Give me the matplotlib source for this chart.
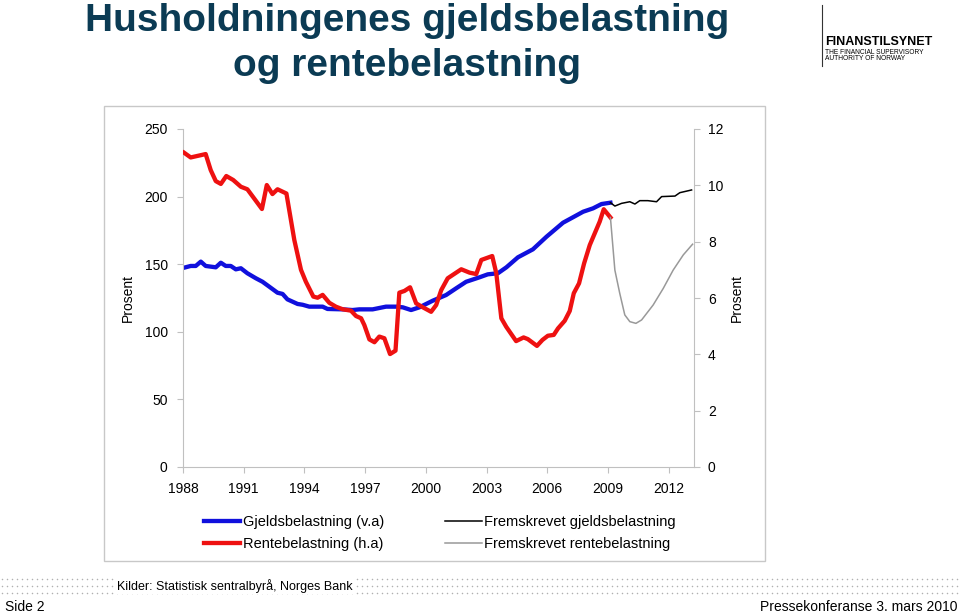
import numpy as np
import matplotlib.pyplot as plt
from matplotlib.lines import Line2D
from matplotlib.patches import Rectangle

plt.rcParams['font.family'] = ['Liberation Sans', 'DejaVu Sans']

# Gjeldsbelastning (v.a), prosent
gjeld_aar = [1988.05, 1988.38, 1988.63, 1988.88, 1989.12, 1989.62, 1989.87, 1990.11,
             1990.36, 1990.61, 1990.86, 1991.18, 1991.60, 1991.93, 1992.26, 1992.67,
             1992.92, 1993.16, 1993.66, 1993.91, 1994.24, 1994.90, 1995.14, 1995.89,
             1996.38, 1996.71, 1997.37, 1998.03, 1998.53, 1998.86, 1999.27, 1999.68,
             2000.34, 2001.00, 2001.50, 2001.99, 2002.65, 2003.06, 2003.56, 2003.98,
             2004.55, 2005.29, 2005.96, 2006.78, 2007.27, 2007.77, 2008.26, 2008.68,
             2009.12]
gjeld = [147.4, 148.7, 148.7, 151.9, 148.7, 147.7, 151.1, 148.7,
         148.7, 146.2, 147.0, 143.3, 139.6, 137.0, 133.4, 128.9,
         128.0, 124.0, 120.6, 120.0, 118.6, 118.6, 116.9, 116.6,
         116.1, 116.6, 116.6, 118.6, 118.6, 118.1, 116.1, 118.1,
         123.0, 127.2, 132.2, 137.0, 140.3, 142.5, 143.3, 147.7,
         155.1, 161.0, 170.3, 180.7, 184.7, 188.8, 191.3, 194.5,
         195.5]

# Fremskrevet gjeldsbelastning
frem_gjeld_aar = [2009.12, 2009.34, 2009.67, 2010.08, 2010.33, 2010.57, 2010.97,
                  2011.40, 2011.65, 2012.31, 2012.55, 2013.13]
frem_gjeld = [195.5, 193.0, 195.0, 196.2, 194.5, 197.0, 197.0,
              196.2, 200.0, 200.4, 202.9, 204.9]

# Rentebelastning (h.a), prosent
rente_aar = [1988.05, 1988.38, 1989.12, 1989.37, 1989.62, 1989.87, 1990.14, 1990.48,
             1990.86, 1991.18, 1991.51, 1991.90, 1992.14, 1992.42, 1992.67, 1993.11,
             1993.50, 1993.83, 1994.07, 1994.44, 1994.65, 1994.90, 1995.23, 1995.56,
             1995.89, 1996.30, 1996.55, 1996.80, 1996.96, 1997.21, 1997.46, 1997.70,
             1997.95, 1998.23, 1998.50, 1998.69, 1998.94, 1999.22, 1999.52, 1999.85,
             2000.26, 2000.51, 2000.76, 2001.08, 2001.75, 2002.16, 2002.49, 2002.74,
             2003.28, 2003.48, 2003.73, 2003.97, 2004.46, 2004.83, 2005.04, 2005.49,
             2005.76, 2006.03, 2006.32, 2006.53, 2006.86, 2007.11, 2007.31, 2007.57,
             2007.82, 2008.10, 2008.59, 2008.79, 2009.12]
rente = [11.16, 10.99, 11.11, 10.54, 10.15, 10.05, 10.33, 10.19,
         9.95, 9.86, 9.54, 9.16, 10.01, 9.69, 9.86, 9.71,
         8.06, 7.00, 6.58, 6.05, 6.01, 6.11, 5.83, 5.69,
         5.60, 5.55, 5.36, 5.28, 5.04, 4.53, 4.43, 4.63,
         4.57, 4.01, 4.13, 6.19, 6.25, 6.38, 5.81, 5.67,
         5.51, 5.75, 6.28, 6.70, 7.02, 6.90, 6.85, 7.35,
         7.49, 6.88, 5.28, 4.98, 4.47, 4.60, 4.54, 4.30,
         4.51, 4.66, 4.69, 4.92, 5.19, 5.54, 6.17, 6.52,
         7.23, 7.88, 8.71, 9.15, 8.86]

# Fremskrevet rentebelastning
frem_rente_aar = [2009.12, 2009.34, 2009.58, 2009.83, 2010.08, 2010.38, 2010.66,
                  2011.23, 2011.73, 2012.22, 2012.72, 2013.18]
frem_rente = [8.86, 6.99, 6.17, 5.40, 5.16, 5.10, 5.22,
              5.75, 6.34, 6.99, 7.53, 7.91]

aar_ticks = [1988, 1991, 1994, 1997, 2000, 2003, 2006, 2009, 2012]
venstre_ticks = [0, 50, 100, 150, 200, 250]
hoyre_ticks = [0, 2, 4, 6, 8, 10, 12]

W, H = 960, 614
fig = plt.figure(figsize=(9.6, 6.14), dpi=100)

def fx(px):
    return px / W

def fy(py):
    return 1 - py / H

grey = '#c0c0c0'

# ramme rundt grafen
fig.add_artist(Rectangle((fx(104), fy(561)), fx(765) - fx(104), fy(106) - fy(561),
                         transform=fig.transFigure, fill=False, edgecolor='#c8c8c8', lw=1))

ax = fig.add_axes([fx(183), fy(467), fx(694) - fx(183), fy(129) - fy(467)])
ax2 = ax.twinx()

p1, = ax.plot(gjeld_aar, gjeld, color='#1010dd', lw=3.1, solid_joinstyle='round',
              label='Gjeldsbelastning (v.a)')
p3, = ax.plot(frem_gjeld_aar, frem_gjeld, color='black', lw=1.1,
              label='Fremskrevet gjeldsbelastning')
p2, = ax2.plot(rente_aar, rente, color='#ee1111', lw=3.1, solid_joinstyle='round',
               label='Rentebelastning (h.a)')
p4, = ax2.plot(frem_rente_aar, frem_rente, color='#999999', lw=1.1,
               label='Fremskrevet rentebelastning')

ax.set_xlim(1988, 2013.25)
ax.set_ylim(0, 250)
ax2.set_ylim(0, 12)
ax.set_xticks(aar_ticks)
ax.set_yticks(venstre_ticks)
ax2.set_yticks(hoyre_ticks)

for a in (ax, ax2):
    for s in a.spines.values():
        s.set_visible(False)
ax.spines['left'].set_visible(True)
ax.spines['bottom'].set_visible(True)
ax2.spines['right'].set_visible(True)
ax.spines['left'].set_color(grey)
ax.spines['bottom'].set_color(grey)
ax2.spines['right'].set_color(grey)

ax.tick_params(axis='y', direction='out', length=4, color=grey, labelsize=10, pad=7)
ax.tick_params(axis='x', direction='out', length=4, color=grey, labelsize=10, pad=7)
ax2.tick_params(axis='y', direction='out', length=4, color=grey, labelsize=10, pad=6)

fig.text(fx(128), fy(298), 'Prosent', rotation=90, ha='center', va='center', fontsize=10)
fig.text(fx(737), fy(298), 'Prosent', rotation=90, ha='center', va='center', fontsize=10)

fig.legend(handles=[p1, p2, p3, p4], ncol=2, loc='upper left',
           bbox_to_anchor=(fx(204), fy(515)), frameon=False, fontsize=10.5,
           handlelength=2.5, handletextpad=0.15, columnspacing=4.2,
           labelspacing=0.55, borderpad=0, borderaxespad=0)

# tittel
title_color = '#0b3b54'
fig.text(fx(407), fy(31), 'Husholdningenes gjeldsbelastning', ha='center', va='baseline',
         fontsize=28, fontweight='bold', color=title_color)
fig.text(fx(407), fy(76), 'og rentebelastning', ha='center', va='baseline',
         fontsize=28, fontweight='bold', color=title_color)

# logo
fig.add_artist(Line2D([fx(822), fx(822)], [fy(5), fy(66)], color='#333333', lw=0.8))
fig.text(fx(825), fy(42), 'FINANSTILSYNET', fontsize=9, fontweight='bold', va='center')
fig.text(fx(825), fy(52), 'THE FINANCIAL SUPERVISORY', fontsize=4.8, va='center')
fig.text(fx(825), fy(59), 'AUTHORITY OF NORWAY', fontsize=4.8, va='center')

# prikkete bunnfelt
for row in [579, 586, 593]:
    xs = np.arange(2, 960, 5)
    fig.add_artist(Line2D(fx(xs), [fy(row)] * len(xs), ls='none', marker='o', ms=1.1,
                          mfc='#b0b0b0', mec='none'))
fig.text(fx(117), fy(586), 'Kilder: Statistisk sentralbyrå, Norges Bank', fontsize=9,
         va='center', bbox=dict(facecolor='white', edgecolor='none', pad=1))
fig.text(fx(5), fy(607), 'Side 2', fontsize=10, va='center')
fig.text(fx(957), fy(607), 'Pressekonferanse 3. mars 2010', fontsize=10, va='center', ha='right')

fig.savefig('out.png', dpi=100)
